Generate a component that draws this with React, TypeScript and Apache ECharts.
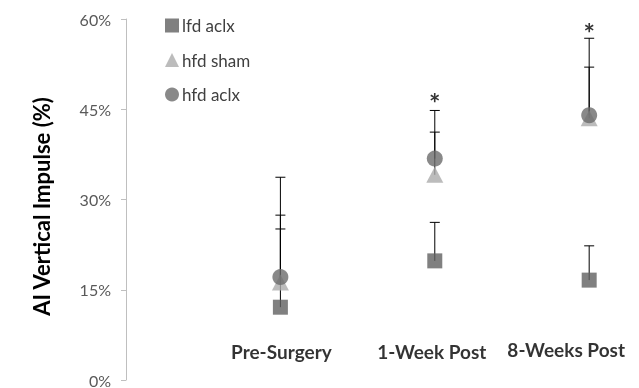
import React, { useEffect, useRef } from "react";
import * as echarts from "echarts";

const categories = ["Pre-Surgery", "1-Week Post", "8-Weeks Post"];
const seriesNames = ["lfd aclx", "hfd sham", "hfd aclx"];
const lfdAclx = [12.1, 19.8, 16.6];
const hfdSham = [16.2, 34.1, 43.5];
const hfdAclx = [17.1, 36.8, 44.0];
const lfdAclxUpper = [25.1, 26.2, 22.3];
const hfdShamUpper = [27.4, 41.2, 52.0];
const hfdAclxUpper = [33.7, 44.8, 56.8];
const significance = ["", "*", "*"];
const significanceLevel = [0, 46.1, 57.8];
const yTicks = [0, 15, 30, 45, 60];

const FONT = "Lato, 'Liberation Sans', sans-serif";

export default function App() {
  const ref = useRef<HTMLDivElement>(null);
  useEffect(() => {
    if (!ref.current) return;
    const chart = echarts.init(ref.current, undefined, { renderer: "svg" });

    const errSeries = (name: string, vals: number[], upper: number[]) => ({
      type: "custom",
      name: name + " err",
      z: 1,
      silent: true,
      data: vals.map((v, i) => [i + 1, v, upper[i]]),
      renderItem: (params: any, api: any) => {
        const x = api.value(0);
        const base = api.coord([x, api.value(1)]);
        const top = api.coord([x, api.value(2)]);
        return {
          type: "group",
          children: [
            { type: "line", shape: { x1: base[0], y1: base[1], x2: top[0], y2: top[1] }, style: { stroke: "#000", lineWidth: 1 } },
            { type: "line", shape: { x1: top[0] - 5, y1: top[1], x2: top[0] + 5, y2: top[1] }, style: { stroke: "#000", lineWidth: 1 } },
          ],
        };
      },
    });

    const labelOffsets = [[1, 0], [-3, 0], [-23, -2]];

    chart.setOption({
      animation: false,
      grid: { left: 126, right: 3.5, top: 19, bottom: 8 },
      legend: {
        orient: "vertical",
        left: 160,
        top: 12,
        itemWidth: 14,
        itemHeight: 14,
        itemGap: 17.5,
        data: seriesNames,
        textStyle: { fontFamily: FONT, fontSize: 17, color: "#404040", padding: [0, 0, 0, -2] },
      },
      xAxis: { type: "value", min: 0, max: 3.3, show: false },
      yAxis: {
        type: "value",
        min: 0,
        max: 60,
        interval: 15,
        name: "AI Vertical Impulse (%)",
        nameLocation: "middle",
        nameGap: 74,
        nameTextStyle: {
          fontFamily: FONT,
          fontSize: 22,
          fontWeight: "bold",
          color: "#000",
          padding: [0, 14, 0, 0],
        },
        axisLine: { show: true, lineStyle: { color: "#bfbfbf" } },
        axisTick: { show: true, length: 5, lineStyle: { color: "#bfbfbf" } },
        splitLine: { show: false },
        axisLabel: {
          margin: 15,
          fontFamily: FONT,
          fontSize: 16,
          color: "#595959",
          formatter: (v: number) => (yTicks.includes(v) ? v + "%" : ""),
        },
      },
      series: [
        errSeries(seriesNames[0], lfdAclx, lfdAclxUpper),
        errSeries(seriesNames[1], hfdSham, hfdShamUpper),
        errSeries(seriesNames[2], hfdAclx, hfdAclxUpper),
        {
          type: "scatter",
          name: seriesNames[0],
          z: 3,
          symbol: "rect",
          symbolSize: 15,
          itemStyle: { color: "#606060" },
          data: lfdAclx.map((v, i) => [i + 1, v]),
        },
        {
          type: "scatter",
          name: seriesNames[1],
          z: 4,
          symbol: "triangle",
          symbolSize: [17, 16],
          itemStyle: { color: "#ababab" },
          data: hfdSham.map((v, i) => [i + 1, v]),
        },
        {
          type: "scatter",
          name: seriesNames[2],
          z: 5,
          symbol: "circle",
          symbolSize: 16,
          itemStyle: { color: "#6b6b6b" },
          data: hfdAclx.map((v, i) => [i + 1, v]),
        },
        {
          type: "scatter",
          name: "sig",
          z: 6,
          silent: true,
          symbolSize: 0,
          data: significanceLevel.map((v, i) => ({ value: [i + 1, v], name: significance[i] })),
          label: {
            show: true,
            position: "inside",
            formatter: (p: any) => p.name,
            fontFamily: FONT,
            fontSize: 27,
            fontWeight: "bold",
            color: "#000",
          },
        },
        {
          type: "scatter",
          name: "cats",
          silent: true,
          symbolSize: 0,
          data: categories.map((c, i) => ({
            value: [i + 1, 4.8],
            name: c,
            label: { offset: labelOffsets[i] },
          })),
          label: {
            show: true,
            position: "inside",
            formatter: (p: any) => p.name,
            fontFamily: FONT,
            fontSize: 19,
            fontWeight: "bold",
            color: "#000",
          },
        },
      ],
    });
    return () => chart.dispose();
  }, []);
  return (
    <div
      ref={ref}
      style={{ position: "fixed", left: 0, top: 0, width: 639, height: 388 }}
    />
  );
}
